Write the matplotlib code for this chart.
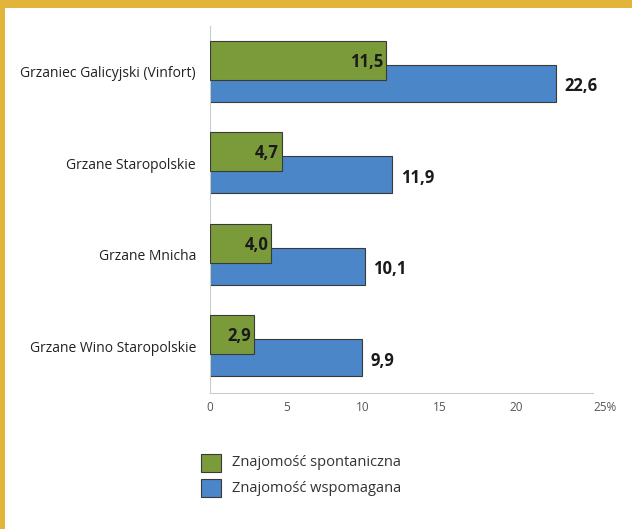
import matplotlib.pyplot as plt
from matplotlib.patches import Rectangle
import numpy as np

categories = ['Grzaniec Galicyjski (Vinfort)', 'Grzane Staropolskie', 'Grzane Mnicha', 'Grzane Wino Staropolskie']
spontaniczna = [11.5, 4.7, 4.0, 2.9]
wspomagana = [22.6, 11.9, 10.1, 9.9]
series_names = ['Znajomość spontaniczna', 'Znajomość wspomagana']
ticks = [0, 5, 10, 15, 20, 25]
tick_labels = ['0', '5', '10', '15', '20', '25%']

plt.rcParams['font.family'] = ['Open Sans', 'DejaVu Sans']
green = '#7b9b3a'
blue = '#4a86c8'
edge = '#3a3a3a'

fig = plt.figure(figsize=(6.32, 5.29), dpi=100)
ax = fig.add_axes([210 / 632, 1 - 393 / 529, 383 / 632, 367 / 529])

y = np.arange(len(categories))
ax.barh(y + 0.125, wspomagana, height=0.405, color=blue, edgecolor=edge, linewidth=0.8, zorder=2)
ax.barh(y - 0.125, spontaniczna, height=0.425, color=green, edgecolor=edge, linewidth=0.8, zorder=3)

for i in range(len(categories)):
    ax.text(spontaniczna[i] - 0.2, y[i] - 0.11, f'{spontaniczna[i]:.1f}'.replace('.', ','),
            ha='right', va='center', fontsize=12, fontweight='bold', color='#1a1a1a', zorder=4)
    ax.text(wspomagana[i] + 0.55, y[i] + 0.16, f'{wspomagana[i]:.1f}'.replace('.', ','),
            ha='left', va='center', fontsize=12, fontweight='bold', color='#1a1a1a', zorder=4)

ax.set_xlim(0, 25)
ax.set_ylim(3.51, -0.5)
ax.set_yticks(y)
ax.set_yticklabels(categories, fontsize=10, color='#222222')
ax.set_xticks(ticks)
ax.set_xticklabels(tick_labels, fontsize=8.5, color='#555555')
ax.get_xticklabels()[-1].set_horizontalalignment('left')
ax.get_xticklabels()[-1].set_x(24.8)
ax.tick_params(axis='both', length=0)
ax.tick_params(axis='y', pad=10)
ax.tick_params(axis='x', pad=6)
for s in ['top', 'right']:
    ax.spines[s].set_visible(False)
for s in ['left', 'bottom']:
    ax.spines[s].set_color('#c8cccc')
    ax.spines[s].set_linewidth(0.8)

# legend
for k, (name, col) in enumerate(zip(series_names, [green, blue])):
    yy = 1 - (454 + k * 25) / 529
    fig.patches.append(Rectangle((201 / 632, yy - 18 / 529), 20 / 632, 18 / 529,
                                 transform=fig.transFigure, facecolor=col, edgecolor=edge, linewidth=0.8))
    fig.text(232 / 632, yy - 9 / 529, name, ha='left', va='center', fontsize=10.5, color='#333333')

# gold frame
fig.patches.append(Rectangle((0, 1 - 8 / 529), 1, 8 / 529, transform=fig.transFigure,
                             facecolor='#e2b43a', edgecolor='none'))
fig.patches.append(Rectangle((0, 0), 5 / 632, 1, transform=fig.transFigure,
                             facecolor='#e2b43a', edgecolor='none'))

fig.savefig('out.png', dpi=100)
